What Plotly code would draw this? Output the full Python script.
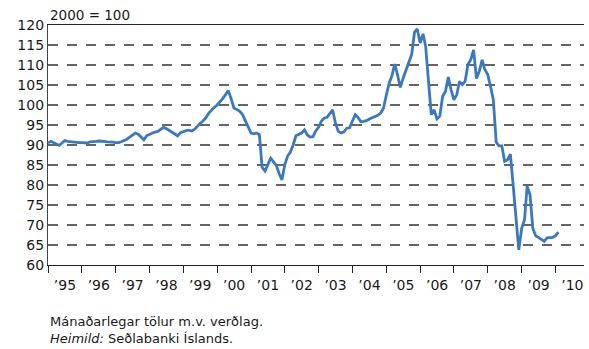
import pandas as pd
import plotly.graph_objects as go

# Real effective exchange rate of the króna, monthly index (2000 = 100)
start_month = "1995-01-01"
index_values = [
    # 1995
    90.5, 90.9, 90.6, 90.2, 89.9, 90.5, 91.1, 90.9, 90.8, 90.7, 90.7, 90.6,
    # 1996
    90.6, 90.5, 90.5, 90.8, 90.8, 90.9, 91.0, 91.0, 90.9, 90.8, 90.8, 90.7,
    # 1997
    90.6, 90.6, 90.8, 91.1, 91.4, 92.0, 92.6, 93.0, 92.7, 92.0, 91.3, 92.3,
    # 1998
    92.7, 93.0, 93.2, 93.4, 93.9, 94.4, 94.1, 93.7, 93.2, 92.7, 92.3, 93.1,
    # 1999
    93.4, 93.6, 93.7, 93.5, 93.9, 94.8, 95.4, 96.0, 96.8, 97.9, 98.8, 99.4,
    # 2000
    100.0, 100.7, 101.6, 102.6, 103.6, 101.5, 99.2, 98.9, 98.4, 97.6, 96.0, 94.4,
    # 2001
    93.0, 92.8, 93.0, 92.6, 84.4, 83.5, 85.0, 86.7, 85.8, 84.9, 82.8, 81.3,
    # 2002
    85.1, 87.3, 88.2, 90.0, 92.3, 92.6, 93.0, 93.8, 92.5, 92.0, 92.1, 93.5,
    # 2003
    94.5, 96.0, 96.7, 96.9, 98.0, 98.8, 95.5, 93.4, 93.0, 93.3, 94.2, 94.3,
    # 2004
    96.0, 97.6, 96.9, 95.8, 95.9, 96.1, 96.5, 96.8, 97.0, 97.4, 98.0, 99.2,
    # 2005
    102.5, 105.5, 107.2, 110.2, 107.6, 104.4, 106.7, 108.8, 110.7, 112.6, 118.2, 119.0,
    # 2006
    115.5, 117.8, 114.7, 105.0, 97.6, 98.8, 96.5, 97.2, 102.2, 103.4, 107.0, 103.8,
    # 2007
    101.3, 102.6, 105.9, 105.1, 105.9, 110.1, 111.3, 113.8, 106.6, 108.4, 111.3, 108.8,
    # 2008
    107.6, 104.5, 101.3, 90.7, 89.8, 89.8, 85.9, 86.3, 87.7, 80.0, 72.0, 63.8,
    # 2009
    69.2, 71.3, 79.7, 77.6, 69.2, 67.3, 66.9, 66.5, 65.9, 66.8, 66.8, 66.9,
    # 2010
    67.3, 68.2,
]
months = pd.date_range(start_month, periods=len(index_values), freq="MS")

y_ticks = list(range(60, 121, 5))
base_label = "2000 = 100"
caption_lines = ["Mánaðarlegar tölur m.v. verðlag.", "<i>Heimild:</i> Seðlabanki Íslands."]

FONT = "DejaVu Sans"
TEXT = "#1a1a1a"

fig = go.Figure(
    go.Scatter(
        x=months,
        y=index_values,
        mode="lines",
        line=dict(color="#3a78c0", width=2.8),
        hoverinfo="skip",
    )
)

fig.update_layout(
    template="none",
    width=589,
    height=349,
    margin=dict(l=48, r=5, t=25, b=84),
    paper_bgcolor="white",
    plot_bgcolor="white",
    showlegend=False,
    font=dict(family=FONT, size=14, color=TEXT),
)

fig.update_xaxes(
    type="date",
    range=["1995-01-01", "2010-11-05"],
    tick0="1995-01-01",
    dtick="M12",
    tickformat="\u2019%y",
    ticklabelmode="period",
    ticks="outside",
    ticklen=7,
    tickwidth=1.2,
    tickcolor="#222",
    showgrid=False,
    zeroline=False,
    showline=True,
    linecolor="#222",
    linewidth=1.3,
    mirror=True,
    tickfont=dict(family=FONT, size=14, color=TEXT),
)

fig.update_yaxes(
    range=[60, 120],
    tickmode="array",
    tickvals=y_ticks,
    ticks="",
    showgrid=False,
    zeroline=False,
    showline=True,
    linecolor="#444",
    linewidth=1.3,
    tickfont=dict(family=FONT, size=14, color=TEXT),
)

# dashed horizontal grid at each interior tick value
for v in y_ticks[1:-1]:
    fig.add_hline(
        y=v,
        line=dict(color="#333333", width=1.3, dash="10px,9px"),
        layer="below",
    )

fig.add_annotation(
    text=base_label,
    xref="paper", yref="paper",
    x=0, y=(265 - 15) / 240,
    xanchor="left", yanchor="middle",
    showarrow=False,
    font=dict(family=FONT, size=13.5, color=TEXT),
)

fig.add_annotation(
    text="<br>".join(caption_lines),
    xref="paper", yref="paper",
    x=0, y=(265 - 312) / 240,
    xanchor="left", yanchor="top",
    align="left",
    showarrow=False,
    font=dict(family=FONT, size=13, color=TEXT),
)

fig.write_html("out.html")
